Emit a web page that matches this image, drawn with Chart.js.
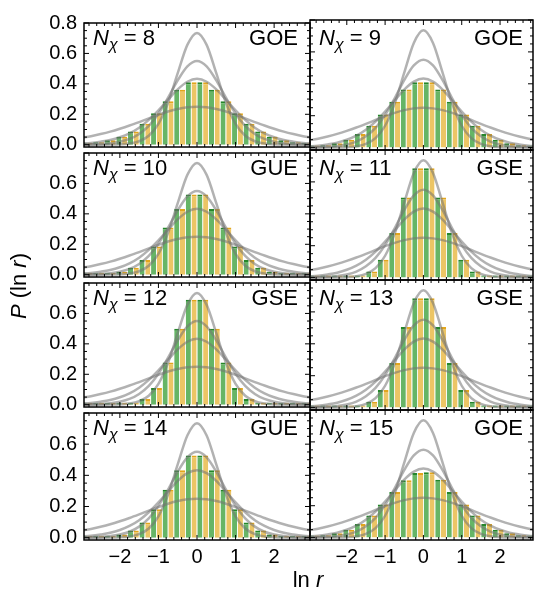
<!DOCTYPE html>
<html>
<head>
<meta charset="utf-8">
<script src="https://cdn.jsdelivr.net/npm/chart.js@4/dist/chart.umd.min.js"></script>
<style>
html,body{margin:0;padding:0;background:#fff;}
#wrap{position:relative;width:535px;height:595px;overflow:hidden;font-family:'Liberation Sans',Arial,sans-serif;color:#000;}
#wrap canvas{position:absolute;}
.lab{position:absolute;font-size:22px;line-height:22px;white-space:nowrap;}
.lab sub{font-size:16px;font-style:italic;vertical-align:-5px;line-height:0;}
</style>
</head>
<body>
<div id="wrap"></div>
<script>
// ---------- data ----------
const binCenters = [-2.85,-2.55,-2.25,-1.95,-1.65,-1.35,-1.05,-0.75,-0.45,-0.15,0.15,0.45,0.75,1.05,1.35,1.65,1.95,2.25,2.55,2.85];

const greenN8  = [0.010,0.017,0.030,0.052,0.087,0.138,0.207,0.285,0.362,0.410,0.410,0.362,0.285,0.207,0.138,0.087,0.052,0.030,0.017,0.010];
const yellowN8 = [0.010,0.017,0.030,0.052,0.087,0.138,0.207,0.285,0.362,0.410,0.410,0.362,0.285,0.207,0.138,0.087,0.052,0.030,0.017,0.010];
const greenN9  = [0.008,0.015,0.028,0.050,0.086,0.137,0.208,0.287,0.365,0.410,0.410,0.365,0.287,0.208,0.137,0.086,0.050,0.028,0.015,0.008];
const yellowN9 = [0.008,0.015,0.028,0.050,0.086,0.137,0.208,0.287,0.365,0.410,0.410,0.365,0.287,0.208,0.137,0.086,0.050,0.028,0.015,0.008];
const greenN10  = [0.002,0.004,0.009,0.020,0.045,0.097,0.186,0.310,0.432,0.528,0.528,0.432,0.310,0.186,0.097,0.045,0.020,0.009,0.004,0.002];
const yellowN10 = [0.002,0.004,0.009,0.020,0.045,0.097,0.186,0.310,0.432,0.528,0.528,0.432,0.310,0.186,0.097,0.045,0.020,0.009,0.004,0.002];
const greenN11  = [0.0001,0.0004,0.0013,0.004,0.012,0.038,0.112,0.280,0.502,0.685,0.685,0.502,0.280,0.112,0.038,0.012,0.004,0.0013,0.0004,0.0001];
const yellowN11 = [0.0001,0.0004,0.0013,0.004,0.012,0.038,0.112,0.280,0.502,0.685,0.685,0.502,0.280,0.112,0.038,0.012,0.004,0.0013,0.0004,0.0001];
const greenN12  = [0.0001,0.0004,0.0013,0.004,0.012,0.037,0.110,0.278,0.500,0.690,0.690,0.500,0.278,0.110,0.037,0.012,0.004,0.0013,0.0004,0.0001];
const yellowN12 = [0.0001,0.0004,0.0013,0.004,0.012,0.037,0.110,0.278,0.500,0.690,0.690,0.500,0.278,0.110,0.037,0.012,0.004,0.0013,0.0004,0.0001];
const greenN13  = [0.0001,0.0004,0.0012,0.004,0.011,0.036,0.110,0.280,0.505,0.685,0.685,0.505,0.280,0.110,0.036,0.011,0.004,0.0012,0.0004,0.0001];
const yellowN13 = [0.0001,0.0004,0.0012,0.004,0.011,0.036,0.110,0.280,0.505,0.685,0.685,0.505,0.280,0.110,0.036,0.011,0.004,0.0012,0.0004,0.0001];
const greenN14  = [0.002,0.004,0.009,0.021,0.046,0.097,0.183,0.308,0.433,0.527,0.527,0.433,0.308,0.183,0.097,0.046,0.021,0.009,0.004,0.002];
const yellowN14 = [0.002,0.004,0.009,0.021,0.046,0.097,0.183,0.308,0.433,0.527,0.527,0.433,0.308,0.183,0.097,0.046,0.021,0.009,0.004,0.002];
const greenN15  = [0.008,0.015,0.028,0.050,0.085,0.138,0.207,0.286,0.360,0.405,0.410,0.362,0.286,0.207,0.138,0.085,0.050,0.028,0.015,0.008];
const yellowN15 = [0.008,0.015,0.028,0.050,0.085,0.138,0.207,0.286,0.360,0.405,0.410,0.362,0.286,0.207,0.138,0.085,0.050,0.028,0.015,0.008];

// reference curves (same in every panel)
const curveX       = [-3,-2.75,-2.5,-2.25,-2,-1.75,-1.5,-1.25,-1,-0.75,-0.5,-0.25,0,0.25,0.5,0.75,1,1.25,1.5,1.75,2,2.25,2.5,2.75,3];
const poissonCurve = [0.045,0.056,0.070,0.086,0.105,0.126,0.149,0.173,0.197,0.218,0.235,0.246,0.250,0.246,0.235,0.218,0.197,0.173,0.149,0.126,0.105,0.086,0.070,0.056,0.045];
const goeCurve     = [0.008,0.012,0.020,0.031,0.049,0.075,0.112,0.163,0.226,0.296,0.364,0.414,0.433,0.414,0.364,0.296,0.226,0.163,0.112,0.075,0.049,0.031,0.020,0.012,0.008];
const gueCurve     = [0.001,0.003,0.005,0.010,0.020,0.038,0.071,0.124,0.204,0.309,0.423,0.515,0.551,0.515,0.423,0.309,0.204,0.124,0.071,0.038,0.020,0.010,0.005,0.003,0.001];
const gseCurve     = [0.000,0.000,0.000,0.001,0.003,0.008,0.023,0.059,0.137,0.276,0.470,0.656,0.735,0.656,0.470,0.276,0.137,0.059,0.023,0.008,0.003,0.001,0.000,0.000,0.000];

const panelN        = [8,9,10,11,12,13,14,15];
const panelEnsemble = ['GOE','GOE','GUE','GSE','GSE','GSE','GUE','GOE'];
const panelGreen    = [greenN8,greenN9,greenN10,greenN11,greenN12,greenN13,greenN14,greenN15];
const panelYellow   = [yellowN8,yellowN9,yellowN10,yellowN11,yellowN12,yellowN13,yellowN14,yellowN15];

// tick labels / tick marks
const xTickValues    = [-2,-1,0,1,2];
const xMinorTicks    = [-2.8,-2.6,-2.4,-2.2,-1.8,-1.6,-1.4,-1.2,-0.8,-0.6,-0.4,-0.2,0.2,0.4,0.6,0.8,1.2,1.4,1.6,1.8,2.2,2.4,2.6,2.8];
const yTickValuesTop = [0,0.2,0.4,0.6,0.8];
const yTickValues    = [0,0.2,0.4,0.6];
const yMinorTicks    = [0.05,0.1,0.15,0.25,0.3,0.35,0.45,0.5,0.55,0.65,0.7,0.75];

// ---------- styling ----------
const FONT = "'Liberation Sans', Arial, sans-serif";
const GREEN_FILL = '#66b566', GREEN_EDGE = '#24862a';
const YELLOW_FILL = '#ecc565', YELLOW_EDGE = '#e2a61c';
const CURVE_COLOR = 'rgba(115,115,115,0.55)';

const frameTicks = {
  id: 'frameTicks',
  afterDatasetsDraw(chart) {
    const {ctx, chartArea: a, scales: {x, y}} = chart;
    const MAJ = 5, MIN = 3;
    ctx.save();
    ctx.strokeStyle = '#000';
    ctx.lineWidth = 1;
    ctx.beginPath();
    const seg = (x1, y1, x2, y2) => { ctx.moveTo(x1, y1); ctx.lineTo(x2, y2); };
    const xt = (vals, L) => vals.forEach(v => {
      const px = x.getPixelForValue(v);
      seg(px, a.bottom, px, a.bottom - L); seg(px, a.top, px, a.top + L);
    });
    const yt = (vals, L) => vals.forEach(v => {
      const py = y.getPixelForValue(v);
      seg(a.left, py, a.left + L, py); seg(a.right, py, a.right - L, py);
    });
    xt(xTickValues, MAJ); xt(xMinorTicks, MIN);
    yt(yTickValuesTop, MAJ); yt(yMinorTicks, MIN);
    ctx.stroke();
    ctx.lineWidth = 1.5;
    ctx.strokeRect(a.left, a.top, a.right - a.left, a.bottom - a.top);
    ctx.restore();
  }
};

const wrap = document.getElementById('wrap');
const fmtX = v => (v < 0 ? '\u2212' + Math.abs(v) : String(v));

function curveDataset(vals) {
  return {
    type: 'line',
    data: curveX.map((x, k) => ({x, y: vals[k]})),
    borderColor: CURVE_COLOR,
    borderWidth: 2.5,
    pointRadius: 0,
    fill: false,
    cubicInterpolationMode: 'monotone',
    clip: 0,
    order: 0
  };
}
function barDataset(vals, fill, edge) {
  return {
    type: 'bar',
    data: binCenters.map((x, k) => ({x, y: vals[k]})),
    backgroundColor: fill,
    borderColor: edge,
    borderWidth: {top: 2, left: 0, right: 0, bottom: 0},
    borderSkipped: 'start',
    barPercentage: 0.88,
    categoryPercentage: 1,
    minBarLength: 2,
    clip: 0,
    order: 1
  };
}

function makePanel(i) {
  const col = i % 2, row = Math.floor(i / 2);
  const aL = col ? 310 : 84, aR = col ? 533 : 310;
  const aT = 20 + 130 * row, aB = aT + 130;
  const padL = col ? 4 : 84, padR = 4, padT = 16, padB = row === 3 ? 45 : 16;
  const W = aR - aL + padL + padR, H = aB - aT + padT + padB;
  const cv = document.createElement('canvas');
  cv.width = W; cv.height = H;
  cv.style.width = W + 'px'; cv.style.height = H + 'px';
  cv.style.left = (aL - padL) + 'px'; cv.style.top = (aT - padT) + 'px';
  wrap.appendChild(cv);
  const xr = col ? [-2.96, 2.86] : [-2.93, 2.93];

  new Chart(cv, {
    type: 'bar',
    data: {
      datasets: [
        curveDataset(poissonCurve), curveDataset(goeCurve),
        curveDataset(gueCurve), curveDataset(gseCurve),
        barDataset(panelGreen[i], GREEN_FILL, GREEN_EDGE),
        barDataset(panelYellow[i], YELLOW_FILL, YELLOW_EDGE)
      ]
    },
    options: {
      responsive: false, animation: false, devicePixelRatio: 1,
      layout: {padding: {left: 0, right: padR, top: padT, bottom: 0}},
      plugins: {legend: {display: false}, tooltip: {enabled: false}},
      scales: {
        x: {
          type: 'linear', min: xr[0], max: xr[1], offset: false,
          grid: {display: false, drawTicks: false}, border: {display: false},
          ticks: {display: row === 3, color: '#000', padding: 5, font: {family: FONT, size: 20}, callback: fmtX, maxRotation: 0},
          afterBuildTicks: s => { s.ticks = xTickValues.map(v => ({value: v})); },
          afterFit: s => { s.height = padB; }
        },
        y: {
          type: 'linear', min: -0.015, max: 0.8,
          grid: {display: false, drawTicks: false}, border: {display: false},
          ticks: {display: col === 0, color: '#000', padding: 7, font: {family: FONT, size: 20}, callback: v => Number(v).toFixed(1)},
          afterBuildTicks: s => { s.ticks = (row === 0 ? yTickValuesTop : yTickValues).map(v => ({value: v})); },
          afterFit: s => { s.width = padL; }
        }
      }
    },
    plugins: [frameTicks]
  });

  const nLab = document.createElement('div');
  nLab.className = 'lab';
  nLab.style.left = (aL + 9) + 'px';
  nLab.style.top = (aT + 7) + 'px';
  nLab.innerHTML = '<i>N</i><sub>\u03c7</sub> = ' + panelN[i];
  wrap.appendChild(nLab);

  const eLab = document.createElement('div');
  eLab.className = 'lab';
  eLab.style.right = (535 - aR + (col ? 10 : 12)) + 'px';
  eLab.style.top = (aT + 7) + 'px';
  eLab.textContent = panelEnsemble[i];
  wrap.appendChild(eLab);
}

for (let i = 0; i < 8; i++) makePanel(i);

const yTitle = document.createElement('div');
yTitle.className = 'lab';
yTitle.style.left = '19px'; yTitle.style.top = '286px';
yTitle.style.transform = 'translate(-50%,-50%) rotate(-90deg)';
yTitle.innerHTML = '<i>P</i> (ln <i>r</i>)';
wrap.appendChild(yTitle);

const xTitle = document.createElement('div');
xTitle.className = 'lab';
xTitle.style.left = '308px'; xTitle.style.top = '580px';
xTitle.style.transform = 'translate(-50%,-50%)';
xTitle.innerHTML = 'ln <i>r</i>';
wrap.appendChild(xTitle);
</script>
</body>
</html>
